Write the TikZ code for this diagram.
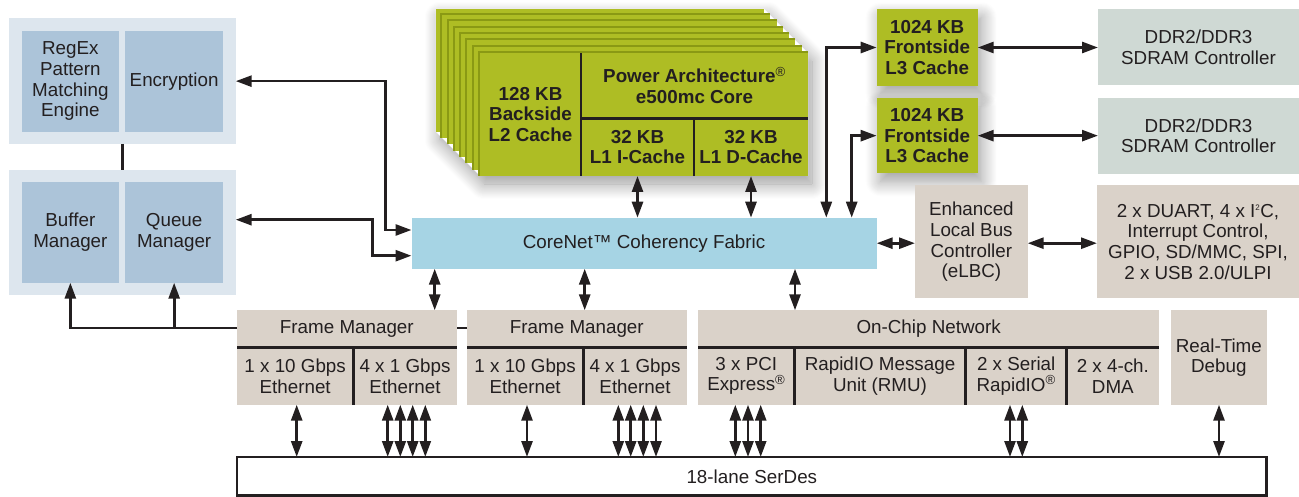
\documentclass[tikz,border=0pt]{standalone}
\usepackage{fontspec}
\setmainfont{Liberation Sans}
\usetikzlibrary{arrows.meta,shadows.blur}
\definecolor{txt}{HTML}{231F20}
\definecolor{panel}{HTML}{DDE6EE}
\definecolor{bluebox}{HTML}{ACC4D9}
\definecolor{corenetc}{HTML}{A6D4E4}
\definecolor{olive}{HTML}{AEBD24}
\definecolor{olivedark}{HTML}{8A9914}
\definecolor{ddr}{HTML}{CFD9D4}
\definecolor{beige}{HTML}{DAD2C9}
\newcommand\regfont{\fontsize{18.8}{20.7}\selectfont}
\begin{document}
\begin{tikzpicture}[x=1pt,y=-1pt,
  blk/.style={anchor=north west, inner sep=0pt, outer sep=0pt, align=center, text=txt, font=\regfont},
  boldblk/.style={blk, font=\regfont\bfseries},
  wh/.style 2 args={minimum width=#1pt, minimum height=#2pt},
  conn/.style={draw=txt, line width=2.7pt},
  dbl/.style={conn, {Triangle[length=16pt,width=11pt]}-{Triangle[length=16pt,width=11pt]}},
  sgl/.style={conn, -{Triangle[length=16pt,width=11pt]}},
  divl/.style={draw=txt, line width=2.7pt},
  shad/.style={blur shadow={shadow xshift=4pt, shadow yshift=-8pt, shadow blur radius=15pt, shadow opacity=40, shadow blur steps=16}},
  layer/.style={fill=olive},
  edge/.style={draw=olivedark, line width=2pt}
]
\useasboundingbox (0,0) rectangle (1299,497);

% left panels
\node[blk, wh={226.7}{125.7}, fill=panel] (panTop) at (9,18.3) {};
\node[blk, wh={97.3}{100.7}, fill=bluebox] (regex) at (21.7,31) {RegEx\\Pattern\\Matching\\Engine};
\node[blk, wh={97.7}{100.7}, fill=bluebox] (encr) at (125.3,31) {Encryption};
\node[blk, wh={226.7}{125.3}, fill=panel] (panBot) at (9,169.7) {};
\node[blk, wh={97.3}{100.7}, fill=bluebox] (buffer) at (21.7,182) {Buffer\\Manager};
\node[blk, wh={97.7}{100.7}, fill=bluebox] (queue) at (125.3,182) {Queue\\Manager};

% core stack
\path[fill=white, shad] (435.9,8.9) -- (763.9,8.9) -- (808,53) -- (808,176) -- (480,176) -- (435.9,131.9) -- cycle;
\path[layer] ({480-6.3*7},{53-6.3*7}) rectangle ++(328,123);
\foreach \k in {6,5,...,1}{
  \draw[edge] ({480-6.3*\k-1},{176-6.3*\k}) -- ({480-6.3*\k-1},{53-6.3*\k-1}) -- ({808-6.3*\k},{53-6.3*\k-1});
  \path[layer] ({480-6.3*\k},{53-6.3*\k}) rectangle ++(328,123);
}
\draw[edge] (479,176) -- (479,52) -- (808,52);
\node[boldblk, wh={101}{123}, fill=olive] (l2) at (480,53) {128 KB\\Backside\\L2 Cache};
\node[boldblk, wh={227}{65.3}, fill=olive] (arch) at (581,53) {Power Architecture\textsuperscript{\mdseries ®}\\e500mc Core};
\node[boldblk, wh={113}{57.7}, fill=olive] (l1i) at (581,118.3) {32 KB\\L1 I-Cache};
\node[boldblk, wh={114}{57.7}, fill=olive] (l1d) at (694,118.3) {32 KB\\L1 D-Cache};
\draw[divl] (l2.north east) -- (l2.south east);
\draw[divl] (arch.south west) -- (arch.south east);
\draw[divl] (l1i.north east) -- (l1i.south east);

% L3 and DDR
\node[boldblk, wh={101}{76.4}, fill=olive, shad] (L3a) at (876.7,9.3) {1024 KB\\Frontside\\L3 Cache};
\node[boldblk, wh={101}{75.3}, fill=olive, shad] (L3b) at (876.7,98) {1024 KB\\Frontside\\L3 Cache};
\node[blk, wh={201}{75.4}, fill=ddr] (ddrA) at (1098,9.3) {DDR2/DDR3\\SDRAM Controller};
\node[blk, wh={201}{75.7}, fill=ddr] (ddrB) at (1098,98) {DDR2/DDR3\\SDRAM Controller};

% CoreNet, eLBC, misc
\node[blk, wh={465.2}{51}, fill=corenetc] (corenet) at (411.5,217.7) {CoreNet™ Coherency Fabric};
\node[blk, wh={112.7}{113}, fill=beige] (elbc) at (915,185.3) {Enhanced\\Local Bus\\Controller\\(eLBC)};
\node[blk, wh={202}{113}, fill=beige] (misc) at (1097,185.3) {2 x DUART, 4 x I\textsuperscript{\footnotesize 2}C,\\Interrupt Control,\\GPIO, SD/MMC, SPI,\\2 x USB 2.0/ULPI};

% Frame managers
\node[blk, wh={219.7}{37}, fill=beige] (fm1t) at (237,310.3) {Frame Manager};
\node[blk, wh={116.3}{57.4}, fill=beige] (fm1a) at (237,347.3) {1 x 10 Gbps\\Ethernet};
\node[blk, wh={103.4}{57.4}, fill=beige] (fm1b) at (353.3,347.3) {4 x 1 Gbps\\Ethernet};
\node[blk, wh={219.7}{37}, fill=beige] (fm2t) at (467,310.3) {Frame Manager};
\node[blk, wh={116.3}{57.4}, fill=beige] (fm2a) at (467,347.3) {1 x 10 Gbps\\Ethernet};
\node[blk, wh={103.4}{57.4}, fill=beige] (fm2b) at (583.3,347.3) {4 x 1 Gbps\\Ethernet};
\draw[divl] (fm1a.north west) -- (fm1b.north east);
\draw[divl] (fm1a.north east) -- (fm1a.south east);
\draw[divl] (fm2a.north west) -- (fm2b.north east);
\draw[divl] (fm2a.north east) -- (fm2a.south east);

% On-chip network
\node[blk, wh={460.7}{37}, fill=beige] (ocnt) at (698.3,310.3) {On-Chip Network};
\node[blk, wh={96}{57.4}, fill=beige] (pcie) at (698.3,347.3) {3 x PCI\\Express\textsuperscript{®}};
\node[blk, wh={171.4}{57.4}, fill=beige] (rmu) at (794.3,347.3) {RapidIO Message\\Unit (RMU)};
\node[blk, wh={101}{57.4}, fill=beige] (srio) at (965.7,347.3) {2 x Serial\\RapidIO\textsuperscript{®}};
\node[blk, wh={92.3}{57.4}, fill=beige] (dma) at (1066.7,347.3) {2 x 4-ch.\\DMA};
\draw[divl] (pcie.north west) -- (dma.north east);
\draw[divl] (pcie.north east) -- (pcie.south east);
\draw[divl] (rmu.north east) -- (rmu.south east);
\draw[divl] (srio.north east) -- (srio.south east);
\node[blk, wh={95.7}{94.4}, fill=beige] (rtd) at (1171,310.3) {Real-Time\\Debug};

% SerDes
\node[blk, wh={1029.7}{38.7}, fill=white, draw=txt, line width=2.5pt] (serdes) at (237,457) {18-lane SerDes};

% connectors
\draw[conn] (panTop.south) -- (panBot.north);
\coordinate (b1) at (385.7,230);
\coordinate (b2) at (372.7,255.7);
\draw[dbl] (panTop.east) -| (b1) -- (corenet.west |- b1);
\draw[dbl] ([yshift=12.65pt]panBot.east) -| (b2) -- (corenet.west |- b2);

\draw[dbl] (l1i.south) -- (corenet.north -| l1i.south);
\draw[dbl] (l1d.south) -- (corenet.north -| l1d.south);
\draw[dbl] (corenet.north -| 826.3,0) |- (L3a.west);
\draw[dbl] (corenet.north -| 851.7,0) |- (L3b.west);
\draw[dbl] (L3a.east) -- (L3a.east -| ddrA.west);
\draw[dbl] (L3b.east) -- (L3b.east -| ddrB.west);
\draw[dbl] (corenet.east) -- (corenet.east -| elbc.west);
\draw[dbl] (elbc.east |- corenet.east) -- (misc.west |- corenet.east);

\draw[dbl] (corenet.south -| 434.7,0) -- (fm1t.north -| 434.7,0);
\draw[dbl] (corenet.south -| 584.7,0) -- (fm2t.north -| 584.7,0);
\draw[dbl] (corenet.south -| 795,0) -- (ocnt.north -| 795,0);

\draw[conn] (fm2t.west |- 0,328) -- (fm1t.east |- 0,328);
\draw[sgl] (fm1t.west |- 0,328) -| (buffer.south);
\draw[sgl] (queue.south |- 0,328) -- (queue.south);

\foreach \x in {296.7} \draw[dbl] (fm1a.south -| \x,0) -- (serdes.north -| \x,0);
\foreach \x in {387.7,400.3,412.7,425.3} \draw[dbl] (fm1b.south -| \x,0) -- (serdes.north -| \x,0);
\foreach \x in {527} \draw[dbl] (fm2a.south -| \x,0) -- (serdes.north -| \x,0);
\foreach \x in {618.3,630.7,643.3,656} \draw[dbl] (fm2b.south -| \x,0) -- (serdes.north -| \x,0);
\foreach \x in {735.3,748,760.7} \draw[dbl] (pcie.south -| \x,0) -- (serdes.north -| \x,0);
\foreach \x in {1010,1022.3} \draw[dbl] (srio.south -| \x,0) -- (serdes.north -| \x,0);
\foreach \x in {1219} \draw[dbl] (rtd.south -| \x,0) -- (serdes.north -| \x,0);
\end{tikzpicture}
\end{document}
